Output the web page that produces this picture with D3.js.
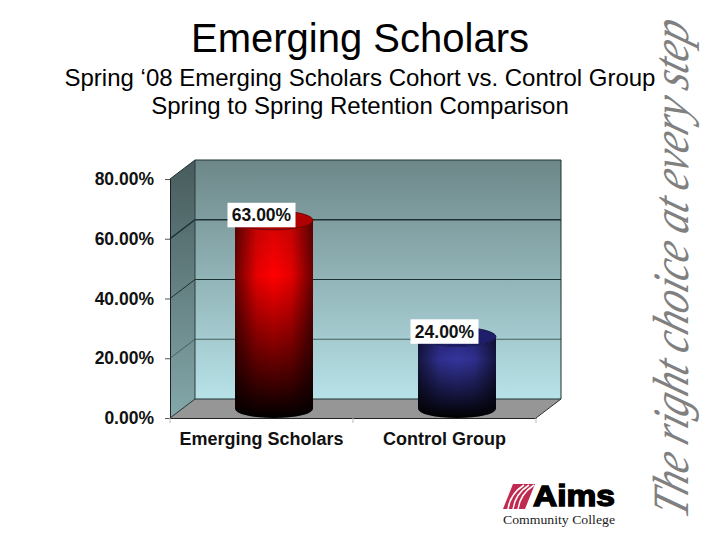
<!DOCTYPE html>
<html>
<head>
<meta charset="utf-8">
<script src="https://cdn.jsdelivr.net/npm/d3@7"></script>
<style>
body { margin: 0; background: #fff; }
svg { display: block; }
text { font-family: "Liberation Sans", Arial, sans-serif; }
</style>
</head>
<body>
<svg width="720" height="540"></svg>
<script>
var categories = ["Emerging Scholars", "Control Group"];
var retention = [63, 24];
var tickValues = [0, 20, 40, 60, 80];
var titleText = "Emerging Scholars";
var subtitleLines = ["Spring \u201808 Emerging Scholars Cohort vs. Control Group", "Spring to Spring Retention Comparison"];
var barColors = [
	{top: "#ff0000", side: "#d40404", lid: "#b00000", rim: "#5a0000"},
	{top: "#34349c", side: "#26267c", lid: "#1e1e6a", rim: "#10103c"}
];

var svg = d3.select("svg");
var defs = svg.append("defs");

// front face of the box, the walls sit behind it by depth
var x = d3.scaleBand().domain(categories).range([170, 536]);
var y = d3.scaleLinear().domain([0, 80]).range([418, 179]);
var depthX = 25, depthY = -19;
var fmt = function(d) { return d3.format(".2f")(d) + "%"; };

var addGradient = function(id, dir, stops) {
	var g = defs.append("linearGradient").attr("id", id)
		.attr("x1", 0).attr("y1", 0)
		.attr("x2", dir == "h" ? 1 : 0).attr("y2", dir == "h" ? 0 : 1);
	stops.forEach(function(s) {
		g.append("stop").attr("offset", s[0]).attr("stop-color", s[1]).attr("stop-opacity", s[2] === undefined ? 1 : s[2]);
	});
};
addGradient("wall", "v", [[0, "#6d8788"], [1, "#b7e2e8"]]);
addGradient("sideWall", "v", [[0, "#475b5c"], [1, "#84a8aa"]]);
addGradient("edges", "h", [[0, "#000", 0.6], [0.28, "#000", 0.1], [0.5, "#000", 0], [0.72, "#000", 0.1], [1, "#000", 0.6]]);
barColors.forEach(function(c, i) {
	addGradient("bar" + i, "v", [[0, c.side], [0.28, c.top], [1, "#000"]]);
});

// titles
svg.append("text").attr("x", 360).attr("y", 52).attr("text-anchor", "middle")
	.attr("font-size", 40).text(titleText);
svg.selectAll(".sub").data(subtitleLines).enter().append("text").attr("class", "sub")
	.attr("x", 360).attr("y", function(d, i) { return 86 + i * 28; })
	.attr("text-anchor", "middle").attr("font-size", 24).text(function(d) { return d; });

// walls and floor
var x0 = x.range()[0], x1 = x.range()[1], y0 = y(0), yTop = y(80);
var poly = function(pts) { return pts.map(function(p) { return p.join(","); }).join(" "); };
svg.append("polygon")
	.attr("points", poly([[x0 + depthX, y0 + depthY], [x1 + depthX, y0 + depthY], [x1 + depthX, yTop + depthY], [x0 + depthX, yTop + depthY]]))
	.attr("fill", "url(#wall)");
svg.append("polygon")
	.attr("points", poly([[x0, y0], [x0 + depthX, y0 + depthY], [x0 + depthX, yTop + depthY], [x0, yTop]]))
	.attr("fill", "url(#sideWall)");
svg.append("polygon")
	.attr("points", poly([[x0, y0], [x1, y0], [x1 + depthX, y0 + depthY], [x0 + depthX, y0 + depthY]]))
	.attr("fill", "#969696");

// gridlines run along side wall and back wall
var grid = svg.append("g").attr("fill", "none");
grid.selectAll("polyline").data(tickValues).enter().append("polyline")
	.attr("points", function(d) {
		return poly([[x0, y(d)], [x0 + depthX, y(d) + depthY], [x1 + depthX, y(d) + depthY]]);
	})
	.attr("stroke", function(d) { return d == 20 ? "#46625f" : "#1c3232"; })
	.attr("stroke-width", function(d) { return d == 60 ? 1.5 : 1; });
svg.append("line").attr("x1", x0 + depthX).attr("x2", x0 + depthX).attr("y1", y0 + depthY).attr("y2", yTop + depthY).attr("stroke", "#2a3c3c");
svg.append("line").attr("x1", x1 + depthX).attr("x2", x1 + depthX).attr("y1", y0 + depthY).attr("y2", yTop + depthY).attr("stroke", "#1c3232");
svg.append("line").attr("x1", x1).attr("x2", x1 + depthX).attr("y1", y0).attr("y2", y0 + depthY).attr("stroke", "#333");

// axes
var yAxis = svg.append("g").attr("transform", "translate(" + x0 + ",0)")
	.call(d3.axisLeft(y).tickValues(tickValues).tickFormat(fmt).tickSize(5).tickPadding(11));
yAxis.select(".domain").attr("stroke", "#222");
yAxis.selectAll("line").attr("stroke", "#555");
yAxis.selectAll("text").attr("font-family", "Liberation Sans").attr("font-size", 17.5)
	.attr("font-weight", "bold").attr("fill", "#111");

var xAxis = svg.append("g").attr("transform", "translate(0," + y0 + ")")
	.call(d3.axisBottom(x).tickSize(0).tickPadding(14));
xAxis.select(".domain").attr("stroke", "#222").attr("stroke-width", 1.2);
xAxis.selectAll("text").attr("font-family", "Liberation Sans").attr("font-size", 18)
	.attr("font-weight", "bold").attr("fill", "#111");
xAxis.selectAll(".edge").data([x0, x0 + x.step(), x1]).enter().append("line").attr("class", "edge")
	.attr("x1", function(d) { return d; }).attr("x2", function(d) { return d; })
	.attr("y1", 0).attr("y2", 5).attr("stroke", "#bbb");

// cylinders sit halfway into the depth of the box
var rx = 39, ry = 9.5;
var bars = svg.selectAll(".bar").data(categories).enter().append("g").attr("class", "bar");
var cx = function(d) { return x(d) + x.bandwidth() / 2 + depthX / 2; };
var barTop = function(d, i) { return y(retention[i]) + depthY / 2; };
var barBottom = y(0) + depthY / 2;
var bodyPath = function(d, i) {
	var c = cx(d), t = barTop(d, i);
	return "M" + (c - rx) + "," + t + "L" + (c - rx) + "," + barBottom +
		"A" + rx + "," + ry + " 0 0 0 " + (c + rx) + "," + barBottom +
		"L" + (c + rx) + "," + t +
		"A" + rx + "," + ry + " 0 0 1 " + (c - rx) + "," + t + "Z";
};
bars.append("path").attr("d", bodyPath).attr("fill", function(d, i) { return "url(#bar" + i + ")"; });
bars.append("path").attr("d", bodyPath).attr("fill", "url(#edges)");
bars.append("ellipse").attr("cx", cx).attr("cy", barTop).attr("rx", rx).attr("ry", ry)
	.attr("fill", function(d, i) { return barColors[i].lid; })
	.attr("stroke", function(d, i) { return barColors[i].rim; }).attr("stroke-width", 0.8);

// value labels
var labels = svg.selectAll(".value").data(categories).enter().append("g").attr("class", "value");
labels.append("rect")
	.attr("x", function(d) { return x(d) + x.bandwidth() / 2 - 34; })
	.attr("y", function(d, i) { return barTop(d, i) - 17.5; })
	.attr("width", 68).attr("height", 24.5).attr("fill", "#fff");
labels.append("text")
	.attr("x", function(d) { return x(d) + x.bandwidth() / 2; })
	.attr("y", function(d, i) { return barTop(d, i) + 1; })
	.attr("text-anchor", "middle").attr("font-size", 17.5).attr("font-weight", "bold").attr("fill", "#111")
	.text(function(d, i) { return fmt(retention[i]); });

// slogan down the right edge, stretched tall rather than squeezed along its length
svg.append("text").attr("transform", "translate(688,520) rotate(-90) skewX(-18) scale(1,1.22)")
	.attr("style", "font-family:'Liberation Serif'")
	.attr("font-style", "italic").attr("font-size", 41.8).attr("fill", "#808080")
	.text("The right choice at every step");

// logo
var logo = svg.append("g");
logo.append("polygon").attr("points", "503,509 513,484 535,484 525,509").attr("fill", "#c12a50");
logo.selectAll(".arc").data([0, 5, 10]).enter().append("path").attr("class", "arc")
	.attr("d", function(d) { return "M" + (508 + d) + ",509Q" + (510 + d) + ",494 " + (524 + d) + ",485"; })
	.attr("fill", "none").attr("stroke", "#fff").attr("stroke-width", 1.5);
logo.append("text").attr("x", 533).attr("y", 506).attr("font-size", 29).attr("font-weight", "bold")
	.attr("stroke", "#000").attr("stroke-width", 1.4).attr("textLength", 82).attr("lengthAdjust", "spacingAndGlyphs").text("Aims");
logo.append("text").attr("x", 503).attr("y", 524).attr("style", "font-family:'Liberation Serif'")
	.attr("font-size", 13).attr("fill", "#222").attr("textLength", 112).attr("lengthAdjust", "spacingAndGlyphs").text("Community College");
</script>
</body>
</html>
